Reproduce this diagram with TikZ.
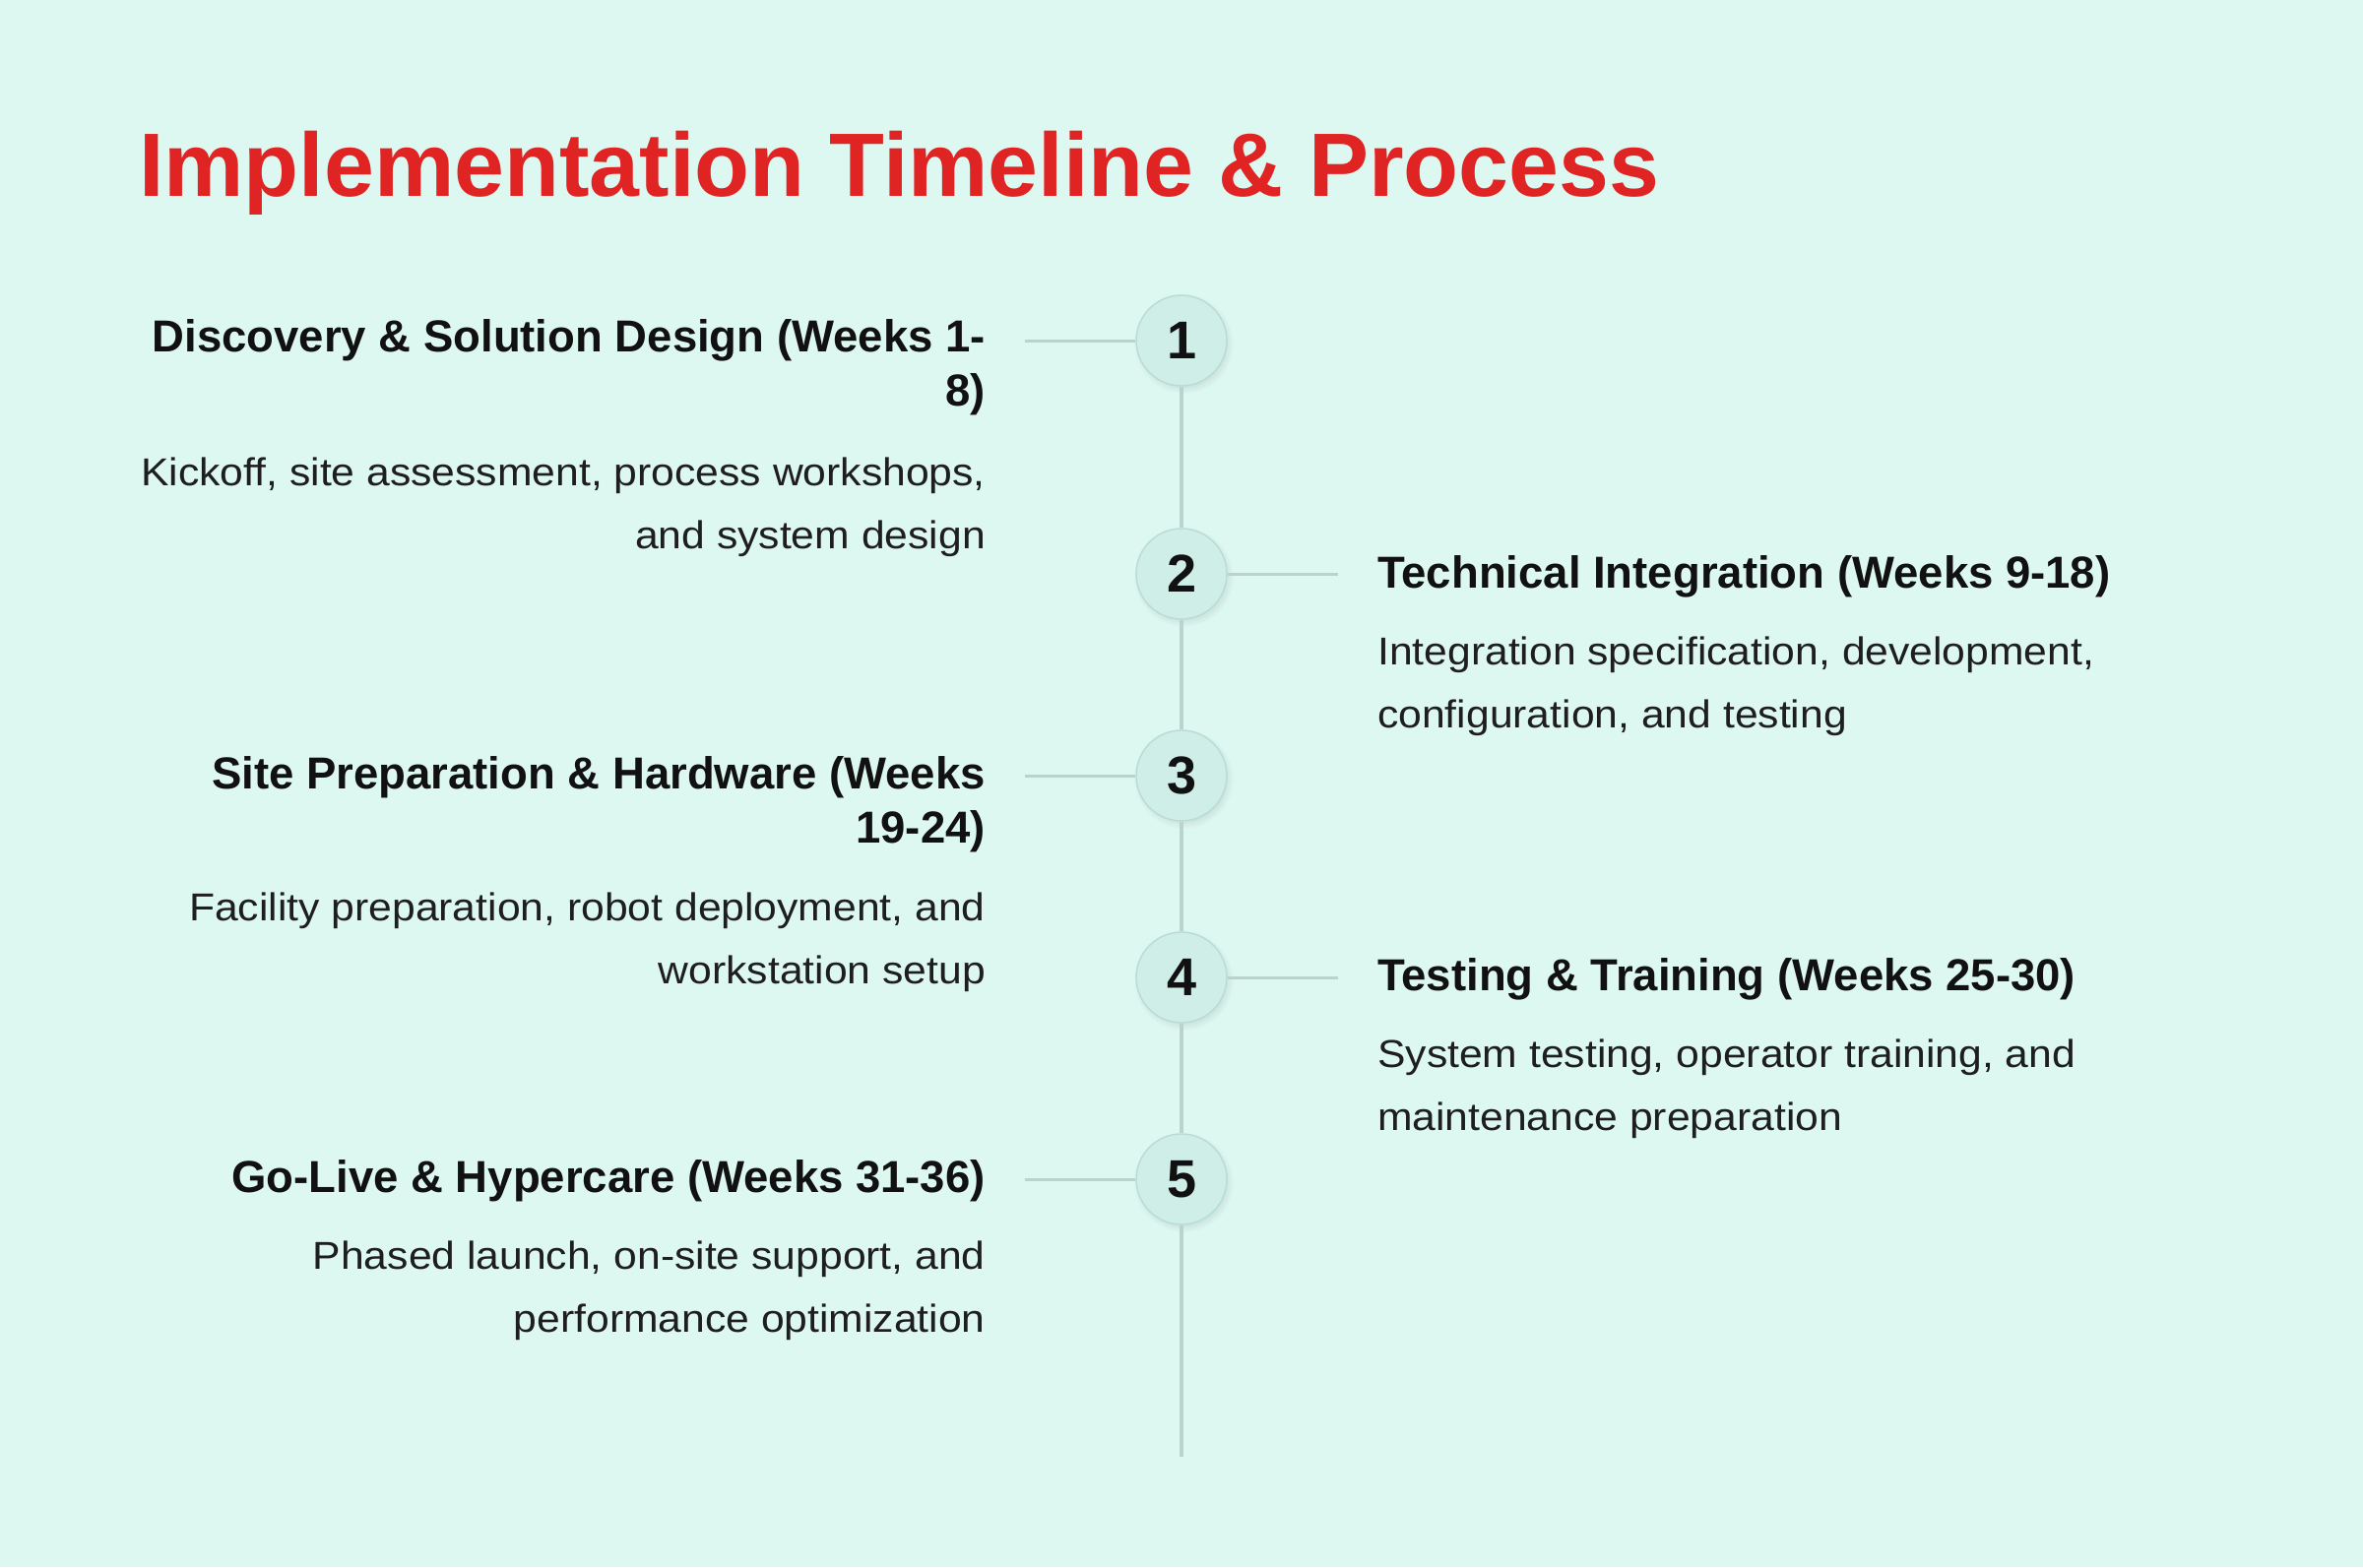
\documentclass[tikz,border=0pt]{standalone}
\usepackage{fontspec}
\setmainfont{Liberation Sans}
\newfontfamily\bodyfont[FakeStretch=1.08]{Liberation Sans}
\usepackage{tikz}
\usetikzlibrary{shadows,positioning}
\definecolor{bgmint}{HTML}{DDF8F1}
\definecolor{titlered}{HTML}{E02424}
\definecolor{stepfill}{HTML}{CFEEE8}
\definecolor{stepedge}{HTML}{B9DDD5}
\definecolor{trackgray}{HTML}{BAD3CE}
\definecolor{headdark}{HTML}{111111}
\definecolor{bodydark}{HTML}{1E1E1E}
\tikzset{
  stepdot/.style={circle, minimum size=92pt, inner sep=0pt, fill=stepfill, draw=stepedge, line width=1.5pt,
    circular drop shadow={shadow xshift=2pt, shadow yshift=-3pt, opacity=0.12, fill=black!60},
    font=\fontsize{54}{54}\selectfont\bfseries, text=headdark},
  track/.style={draw=trackgray, line width=4pt},
  phasehead/.style={inner sep=0pt, font=\fontsize{45.5}{55}\selectfont\bfseries, text=headdark},
  phasebody/.style={inner sep=0pt, font=\bodyfont\fontsize{39.5}{64}\selectfont, text=bodydark}
}
\begin{document}
\begin{tikzpicture}[x=1pt,y=-1pt]
\useasboundingbox (0,0) rectangle (2400,1592);
\fill[bgmint] (0,0) rectangle (2400,1592);

\node[anchor=base west, inner sep=0pt, text=titlered, font=\fontsize{91.5}{92}\selectfont\bfseries] (title) at (141,199) {Implementation Timeline \& Process};

% timeline dots
\coordinate (tend) at (1200,1480);
\node[stepdot] (s1) at (1200,346) {1};
\node[stepdot] (s2) at (1200,583) {2};
\node[stepdot] (s3) at (1200,788) {3};
\node[stepdot] (s4) at (1200,993) {4};
\node[stepdot] (s5) at (1200,1198) {5};
\foreach \a/\b in {s1/s2,s2/s3,s3/s4,s4/s5}
  \draw[track] (\a.south) -- (\b.north);
\draw[track] (s5.south) -- (tend);

% left side
\coordinate (l1) at (1041,346);
\coordinate (l3) at (1041,788);
\coordinate (l5) at (1041,1198);
\draw[track, line width=3pt] (l1) -- (s1.west);
\draw[track, line width=3pt] (l3) -- (s3.west);
\draw[track, line width=3pt] (l5) -- (s5.west);

\node[phasehead, anchor=base east, align=right] (h1) at (1001,412) {Discovery \& Solution Design (Weeks 1-\\8)};
\node[phasebody, anchor=base east, align=right] (b1) at (1001,557) {Kickoff, site assessment, process workshops,\\and system design};

\node[phasehead, anchor=base east, align=right] (h3) at (1001,856) {Site Preparation \& Hardware (Weeks\\19-24)};
\node[phasebody, anchor=base east, align=right] (b3) at (1001,999) {Facility preparation, robot deployment, and\\workstation setup};

\node[phasehead, anchor=base east, align=right] (h5) at (1001,1211) {Go-Live \& Hypercare (Weeks 31-36)};
\node[phasebody, anchor=base east, align=right] (b5) at (1001,1353) {Phased launch, on-site support, and\\performance optimization};

% right side
\coordinate (r2) at (1359,583);
\coordinate (r4) at (1359,993);
\draw[track, line width=3pt] (s2.east) -- (r2);
\draw[track, line width=3pt] (s4.east) -- (r4);

\node[phasehead, anchor=base west, align=left] (h2) at (1399,597) {Technical Integration (Weeks 9-18)};
\node[phasebody, anchor=base west, align=left] (b2) at (1399,739) {Integration specification, development,\\configuration, and testing};

\node[phasehead, anchor=base west, align=left] (h4) at (1399,1006) {Testing \& Training (Weeks 25-30)};
\node[phasebody, anchor=base west, align=left] (b4) at (1399,1148) {System testing, operator training, and\\maintenance preparation};
\end{tikzpicture}
\end{document}
